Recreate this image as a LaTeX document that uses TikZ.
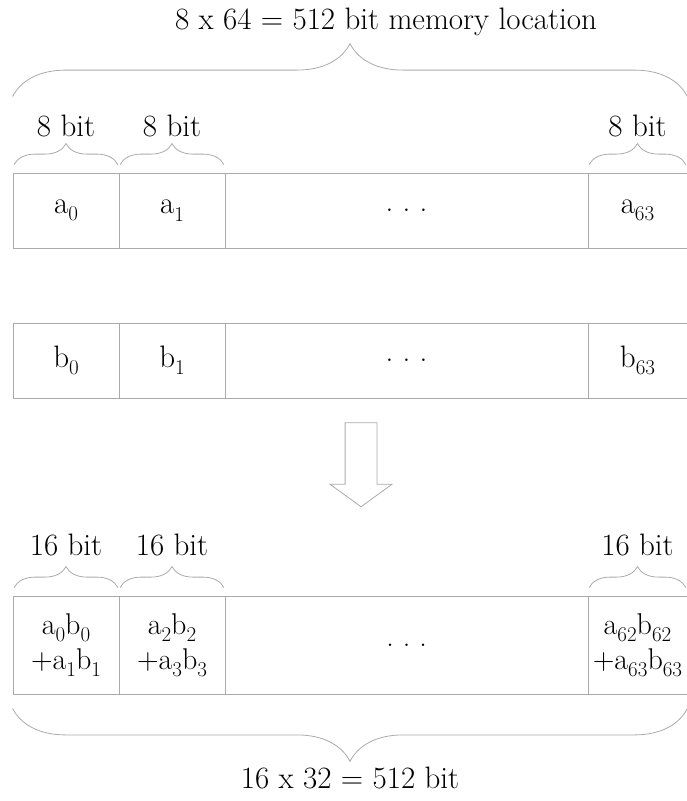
\documentclass[tikz,border=0pt]{standalone}
\usepackage{xcolor}
\usepackage{tikz}
\usetikzlibrary{shapes.arrows, decorations.pathreplacing, positioning, calc}

\definecolor{linegray}{RGB}{170,170,170}
\newcommand{\ix}[2]{#1\raisebox{-0.55ex}{\fontsize{21}{21}\selectfont #2}}
\newcommand{\celldots}{.\hspace{0.3em}.\hspace{0.3em}.}

\begin{document}
\begin{tikzpicture}[
    x=1pt, y=-1pt,
    cell/.style={rectangle, draw=linegray, line width=0.8pt, minimum height=75pt, inner sep=0pt, font=\fontsize{31}{31}\selectfont},
    sumcell/.style={cell, minimum height=98pt, align=center, font=\fontsize{30}{35}\selectfont},
    brace/.style={draw=linegray, line width=0.8pt, decorate, decoration={brace, amplitude=21pt}},
    bigbrace/.style={draw=linegray, line width=0.8pt, decorate, decoration={brace, amplitude=53pt}},
    lbl/.style={font=\fontsize{31}{35}\selectfont, inner sep=2pt}
]
\useasboundingbox (0,0) rectangle (686,801);

% Cells of a
\node[cell, minimum width=106pt] (a0) at (66,210.5) {\ix{a}{0}};
\node[cell, minimum width=106pt] (a1) at (172,210.5) {\ix{a}{1}};
\node[cell, minimum width=363pt] (adots) at (406.5,210.5) {\celldots};
\node[cell, minimum width=99pt] (a63) at (637.5,210.5) {\ix{a}{63}};

% Cells of b
\node[cell, minimum width=106pt] (b0) at (66,360.5) {\ix{b}{0}};
\node[cell, minimum width=106pt] (b1) at (172,360.5) {\ix{b}{1}};
\node[cell, minimum width=363pt] (bdots) at (406.5,360.5) {\celldots};
\node[cell, minimum width=99pt] (b63) at (637.5,360.5) {\ix{b}{63}};

% Cells of the sums
\node[sumcell, minimum width=106pt] (c0) at (66,645) {\ix{a}{0}\ix{b}{0}\\+\ix{a}{1}\ix{b}{1}};
\node[sumcell, minimum width=106pt] (c1) at (172,645) {\ix{a}{2}\ix{b}{2}\\+\ix{a}{3}\ix{b}{3}};
\node[sumcell, minimum width=363pt] (cdots) at (406.5,645) {\celldots};
\node[sumcell, minimum width=99pt] (c31) at (637.5,645) {\ix{a}{62}\ix{b}{62}\\+\ix{a}{63}\ix{b}{63}};

% Arrow
\node[single arrow, draw=linegray, line width=0.8pt, rotate=-90, minimum height=84pt,
      inner xsep=0pt, inner ysep=15.5pt, single arrow head extend=15pt,
      single arrow tip angle=108] (down) at (361,459) {};

% Braces over a
\draw[brace] ([shift={(1.5,-8)}]a0.north west) -- ([shift={(-1.5,-8)}]a0.north east)
    node[midway, lbl, above=25pt] (wa0) {8 bit};
\draw[brace] ([shift={(1.5,-8)}]a1.north west) -- ([shift={(-1.5,-8)}]a1.north east)
    node[midway, lbl, above=25pt] (wa1) {8 bit};
\draw[brace] ([shift={(1.5,-8)}]a63.north west) -- ([shift={(-1.5,-8)}]a63.north east)
    node[midway, lbl, above=25pt] (wa63) {8 bit};
\draw[bigbrace] ([yshift=76]a0.north west) -- ([yshift=76]a63.north east)
    node[midway, lbl, above=58pt, xshift=36pt] (total) {8 x 64 = 512 bit memory location};

% Braces over the sums
\draw[brace] ([shift={(1.5,-8)}]c0.north west) -- ([shift={(-1.5,-8)}]c0.north east)
    node[midway, lbl, above=29pt] (wc0) {16 bit};
\draw[brace] ([shift={(1.5,-8)}]c1.north west) -- ([shift={(-1.5,-8)}]c1.north east)
    node[midway, lbl, above=29pt] (wc1) {16 bit};
\draw[brace] ([shift={(1.5,-8)}]c31.north west) -- ([shift={(-1.5,-8)}]c31.north east)
    node[midway, lbl, above=29pt] (wc31) {16 bit};
\draw[bigbrace] ([yshift=-14]c31.south east) -- ([yshift=-14]c0.south west)
    node[midway, lbl, below=56pt] (sum) {16 x 32 = 512 bit};

\end{tikzpicture}
\end{document}
